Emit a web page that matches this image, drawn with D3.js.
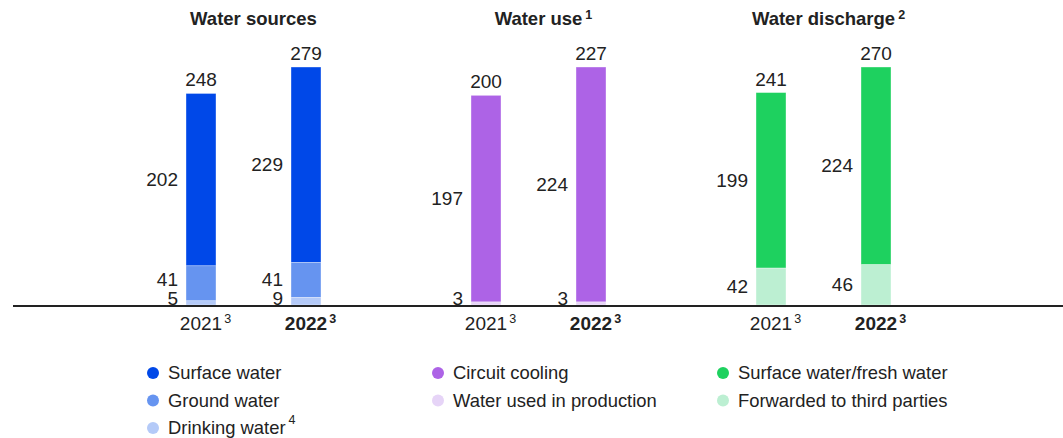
<!DOCTYPE html>
<html>
<head>
<meta charset="utf-8">
<script src="https://cdn.jsdelivr.net/npm/d3@7"></script>
<style>
  html, body { margin: 0; padding: 0; background: #fff; }
  svg { display: block; font-family: "Liberation Sans", Arial, sans-serif; }
</style>
</head>
<body>
<svg id="chart" width="1063" height="438"></svg>
<script>
// ---- data ----
const years = ["2021", "2022"];
const yearNote = "3";
const panelTitles = ["Water sources", "Water use", "Water discharge"];
const panelNotes = ["", "1", "2"];

const sourcesKeys = ["Drinking water", "Ground water", "Surface water"];
const sources2021 = [5, 41, 202];
const sources2022 = [9, 41, 229];
const sourcesTotals = [248, 279];

const useKeys = ["Water used in production", "Circuit cooling"];
const use2021 = [3, 197];
const use2022 = [3, 224];
const useTotals = [200, 227];

const dischargeKeys = ["Forwarded to third parties", "Surface water/fresh water"];
const discharge2021 = [42, 199];
const discharge2022 = [46, 224];
const dischargeTotals = [241, 270];

const sourcesColors = ["#b4caf8", "#6694f0", "#0048e8"];
const useColors = ["#e6d4f7", "#ad63e6"];
const dischargeColors = ["#bcefd2", "#1ed15f"];

// legend entries (top-to-bottom per column)
const legendCols = [
  { labels: ["Surface water", "Ground water", "Drinking water"], colors: ["#0048e8", "#6694f0", "#b4caf8"], notes: ["", "", "4"] },
  { labels: ["Circuit cooling", "Water used in production"], colors: ["#ad63e6", "#e6d4f7"], notes: ["", ""] },
  { labels: ["Surface water/fresh water", "Forwarded to third parties"], colors: ["#1ed15f", "#bcefd2"], notes: ["", ""] }
];

const panels = [
  { title: panelTitles[0], note: panelNotes[0], keys: sourcesKeys, colors: sourcesColors, values: [sources2021, sources2022], totals: sourcesTotals },
  { title: panelTitles[1], note: panelNotes[1], keys: useKeys, colors: useColors, values: [use2021, use2022], totals: useTotals },
  { title: panelTitles[2], note: panelNotes[2], keys: dischargeKeys, colors: dischargeColors, values: [discharge2021, discharge2022], totals: dischargeTotals }
];

// ---- layout ----
const svg = d3.select("#chart");
const textColor = "#222";
const baseY = 305;
const topY = 67;
const barW = 30;
const fs = 19;
const panelCenters = d3.scalePoint().domain(panelTitles).range([253.5, 823.5]);

panels.forEach((p, pi) => {
  const cx = panelCenters(p.title);
  const x = d3.scalePoint().domain(years).range([cx - 52.5, cx + 52.5]);
  const y = d3.scaleLinear().domain([0, d3.max(p.totals)]).range([baseY, topY]);
  const g = svg.append("g");

  // title
  const t = g.append("text").attr("x", cx).attr("y", 25).attr("text-anchor", "middle")
    .attr("font-size", 18.5).attr("font-weight", "bold").attr("fill", textColor).text(p.title);
  if (p.note) {
    const w = t.node().getComputedTextLength();
    g.append("text").attr("x", cx + w / 2 + 3).attr("y", 19).attr("font-size", 12.5)
      .attr("font-weight", "bold").attr("fill", textColor).text(p.note);
  }

  years.forEach((yr, yi) => {
    const vals = p.values[yi];
    const bx = x(yr) - barW / 2;
    const stack = d3.stack().keys(p.keys.map((k, i) => i))([vals.reduce((o, v, i) => (o[i] = v, o), {})]);
    // bars
    stack.forEach((s, si) => {
      const d = s[0];
      g.append("rect").attr("x", bx).attr("width", barW)
        .attr("y", y(d[1])).attr("height", y(d[0]) - y(d[1]))
        .attr("fill", p.colors[si]).attr("stroke", "#fff").attr("stroke-width", 0.6).attr("stroke-opacity", 0.6);
    });
    // segment labels with spacing
    let prev = null;
    stack.forEach((s, si) => {
      const d = s[0];
      let ly = (y(d[0]) + y(d[1])) / 2;
      if (si === 0) ly = Math.min(ly, baseY - 7);
      if (prev !== null) ly = Math.min(ly, prev - 19);
      prev = ly;
      g.append("text").attr("x", bx - 8).attr("y", ly).attr("dy", "0.35em")
        .attr("text-anchor", "end").attr("font-size", fs).attr("fill", textColor).text(vals[si]);
    });
    // total
    g.append("text").attr("x", x(yr)).attr("y", y(p.totals[yi]) - 7)
      .attr("text-anchor", "middle").attr("font-size", fs).attr("fill", textColor).text(p.totals[yi]);
    // year label
    const bold = yi === 1;
    const yt = g.append("text").attr("x", x(yr)).attr("y", 330).attr("text-anchor", "middle")
      .attr("font-size", fs).attr("font-weight", bold ? "bold" : "normal").attr("fill", textColor).text(yr);
    const yw = yt.node().getComputedTextLength();
    g.append("text").attr("x", x(yr) + yw / 2 + 2).attr("y", 323).attr("font-size", 12.5)
      .attr("font-weight", bold ? "bold" : "normal").attr("fill", textColor).text(yearNote);
  });
});

// baseline
svg.append("line").attr("x1", 13).attr("x2", 1063).attr("y1", 306).attr("y2", 306)
  .attr("stroke", "#222").attr("stroke-width", 2);

// legend
const legendX = d3.scalePoint().domain([0, 1, 2]).range([153, 723]);
const legendY = d3.scalePoint().domain([0, 1, 2]).range([373, 428]);
legendCols.forEach((col, ci) => {
  col.labels.forEach((lab, ri) => {
    const lx = legendX(ci), ly = legendY(ri);
    svg.append("circle").attr("cx", lx).attr("cy", ly).attr("r", 6).attr("fill", col.colors[ri]);
    const lt = svg.append("text").attr("x", lx + 15).attr("y", ly).attr("dy", "0.35em")
      .attr("font-size", 18.4).attr("fill", textColor).text(lab);
    if (col.notes[ri]) {
      const w = lt.node().getComputedTextLength();
      svg.append("text").attr("x", lx + 15 + w + 3).attr("y", ly - 4).attr("font-size", 12.5)
        .attr("fill", textColor).text(col.notes[ri]);
    }
  });
});
</script>
</body>
</html>
